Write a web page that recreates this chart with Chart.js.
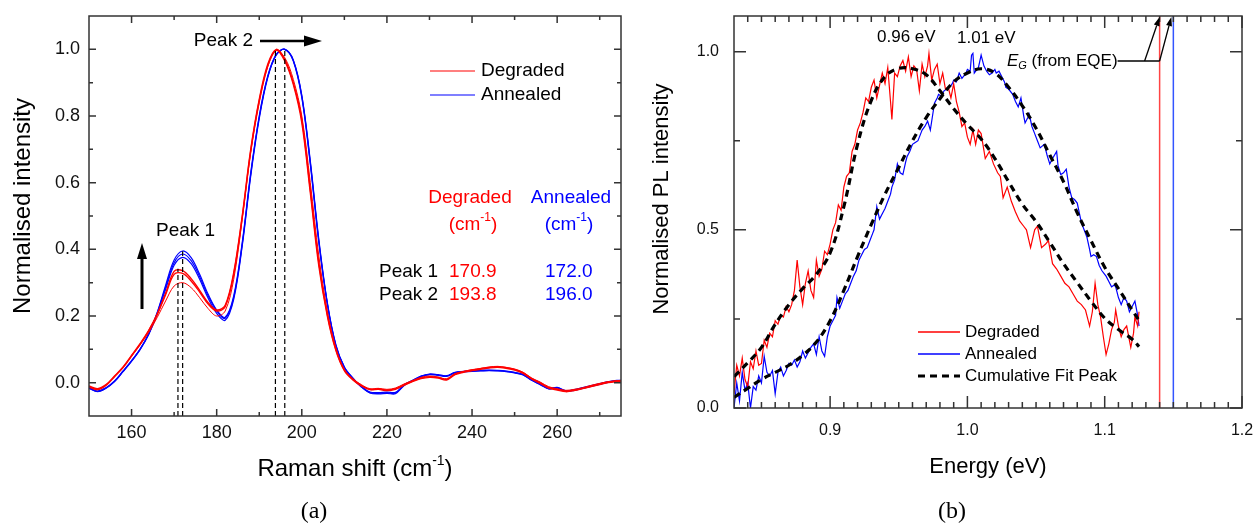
<!DOCTYPE html>
<html>
<head>
<meta charset="utf-8">
<script src="https://cdn.jsdelivr.net/npm/chart.js@4"></script>
<style>
  html, body { margin: 0; padding: 0; background: #fff; }
  #wrap { position: relative; width: 1256px; height: 526px; }
  #ramanBox { position: absolute; left: 0; top: 0; width: 630px; height: 526px; }
  #plBox { position: absolute; left: 630px; top: 0; width: 626px; height: 526px; }
</style>
</head>
<body>
<div id="wrap">
  <div id="ramanBox"><canvas id="raman"></canvas></div>
  <div id="plBox"><canvas id="pl"></canvas></div>
</div>
<script>
// ---- (a) Raman spectra ----
const ramanShift = [150,152,154,156,158,160,162,164,166,168,170,172,174,176,178,180,182,184,186,188,190,192,194,196,198,200,202,204,206,208,210,212,214,216,218,220,222,224,226,228,230,232,234,236,238,240,242,244,246,248,250,252,254,256,258,260,262,264,266,268,270,272,274,276];

const degradedA = [-0.013,-0.021,-0.008,0.018,0.045,0.08,0.115,0.155,0.205,0.268,0.334,0.336,0.312,0.277,0.24,0.218,0.232,0.33,0.5,0.7,0.85,0.955,1.0,0.97,0.9,0.79,0.58,0.36,0.205,0.1,0.038,0.01,-0.008,-0.02,-0.018,-0.022,-0.018,-0.006,0.005,0.014,0.018,0.016,0.01,0.026,0.033,0.038,0.042,0.046,0.048,0.045,0.04,0.03,0.013,0.0,-0.014,-0.02,-0.025,-0.022,-0.017,-0.01,-0.004,0.002,0.005,0.007];
const degradedB = [-0.01,-0.018,-0.006,0.02,0.047,0.082,0.117,0.156,0.204,0.264,0.325,0.328,0.305,0.272,0.236,0.215,0.228,0.325,0.495,0.695,0.845,0.95,0.998,0.965,0.895,0.78,0.57,0.35,0.2,0.097,0.036,0.008,-0.01,-0.021,-0.02,-0.024,-0.02,-0.008,0.003,0.012,0.016,0.014,0.008,0.024,0.031,0.036,0.04,0.044,0.046,0.043,0.038,0.028,0.011,-0.002,-0.016,-0.022,-0.027,-0.024,-0.018,-0.012,-0.006,0.0,0.003,0.005];
const degradedC = [-0.012,-0.02,-0.007,0.019,0.046,0.08,0.113,0.15,0.195,0.245,0.29,0.3,0.285,0.255,0.222,0.2,0.215,0.31,0.49,0.69,0.84,0.948,0.996,0.975,0.91,0.8,0.6,0.38,0.215,0.105,0.04,0.012,-0.006,-0.018,-0.017,-0.02,-0.016,-0.004,0.006,0.016,0.02,0.017,0.012,0.027,0.034,0.039,0.043,0.047,0.049,0.046,0.041,0.031,0.014,0.002,-0.012,-0.018,-0.023,-0.02,-0.015,-0.008,-0.002,0.003,0.006,0.008];
const annealedA = [-0.016,-0.026,-0.016,0.004,0.034,0.065,0.1,0.145,0.21,0.292,0.368,0.395,0.375,0.325,0.265,0.218,0.196,0.26,0.42,0.63,0.8,0.92,0.985,1.0,0.965,0.855,0.655,0.42,0.235,0.11,0.045,0.012,-0.012,-0.03,-0.032,-0.03,-0.031,-0.008,0.006,0.019,0.025,0.023,0.02,0.03,0.033,0.035,0.036,0.037,0.036,0.034,0.03,0.024,0.008,-0.005,-0.018,-0.015,-0.025,-0.022,-0.016,-0.01,-0.004,0.002,0.006,0.006];
const annealedB = [-0.015,-0.025,-0.015,0.005,0.035,0.066,0.101,0.146,0.208,0.286,0.36,0.386,0.366,0.318,0.26,0.215,0.193,0.255,0.415,0.625,0.797,0.918,0.984,1.0,0.967,0.86,0.66,0.425,0.238,0.112,0.046,0.013,-0.011,-0.028,-0.03,-0.028,-0.029,-0.007,0.007,0.02,0.026,0.024,0.021,0.031,0.034,0.036,0.037,0.038,0.037,0.035,0.031,0.025,0.009,-0.004,-0.017,-0.014,-0.024,-0.021,-0.015,-0.009,-0.003,0.003,0.007,0.007];
const annealedC = [-0.017,-0.027,-0.017,0.003,0.033,0.064,0.099,0.144,0.205,0.28,0.352,0.376,0.357,0.31,0.253,0.208,0.187,0.25,0.41,0.62,0.792,0.915,0.983,1.0,0.968,0.862,0.665,0.43,0.24,0.114,0.047,0.014,-0.013,-0.031,-0.034,-0.032,-0.033,-0.009,0.005,0.018,0.024,0.022,0.019,0.029,0.032,0.034,0.035,0.036,0.035,0.033,0.029,0.023,0.007,-0.006,-0.019,-0.016,-0.026,-0.023,-0.017,-0.011,-0.005,0.001,0.005,0.005];

const peaksDegraded = [170.9, 193.8];
const peaksAnnealed = [172.0, 196.0];
const peakTopsDegraded = [0.342, 0.998];
const peakTopsAnnealed = [0.394, 1.0];

const ramanXMajor = [160, 180, 200, 220, 240, 260];
const ramanXMinor = [170, 190, 210, 230, 250, 270];
const ramanYMajor = [0.0, 0.2, 0.4, 0.6, 0.8, 1.0];
const ramanYMinor = [0.1, 0.3, 0.5, 0.7, 0.9];

// ---- (b) PL spectra ----
const plDegraded = [[0.830,0.04],[0.832,0.12],[0.834,0.09],[0.836,0.14],[0.838,0.08],[0.840,0.06],[0.842,0.13],[0.844,0.11],[0.846,0.16],[0.848,0.12],[0.850,0.125],[0.852,0.19],[0.854,0.17],[0.856,0.21],[0.858,0.2],[0.860,0.245],[0.862,0.235],[0.864,0.26],[0.866,0.255],[0.868,0.285],[0.870,0.27],[0.872,0.29],[0.874,0.33],[0.876,0.415],[0.878,0.34],[0.880,0.29],[0.882,0.35],[0.884,0.385],[0.886,0.33],[0.888,0.31],[0.890,0.415],[0.892,0.37],[0.894,0.39],[0.896,0.44],[0.898,0.43],[0.900,0.46],[0.902,0.50],[0.904,0.52],[0.906,0.57],[0.908,0.555],[0.910,0.62],[0.912,0.65],[0.914,0.66],[0.916,0.72],[0.918,0.74],[0.920,0.78],[0.922,0.80],[0.924,0.83],[0.926,0.87],[0.928,0.86],[0.930,0.90],[0.932,0.92],[0.934,0.87],[0.936,0.905],[0.938,0.94],[0.940,0.91],[0.942,0.955],[0.944,0.86],[0.945,0.81],[0.947,0.94],[0.949,0.93],[0.951,0.96],[0.953,0.975],[0.955,0.945],[0.957,0.985],[0.959,0.93],[0.961,0.96],[0.963,0.95],[0.965,0.89],[0.967,0.965],[0.969,0.93],[0.971,0.96],[0.972,0.995],[0.974,0.92],[0.976,0.95],[0.978,0.965],[0.980,0.91],[0.982,0.94],[0.984,0.895],[0.986,0.9],[0.988,0.87],[0.990,0.91],[0.992,0.86],[0.994,0.83],[0.996,0.79],[0.998,0.80],[1.000,0.76],[1.002,0.74],[1.004,0.78],[1.006,0.74],[1.008,0.78],[1.010,0.77],[1.013,0.70],[1.016,0.72],[1.019,0.685],[1.022,0.66],[1.024,0.65],[1.026,0.59],[1.029,0.62],[1.032,0.58],[1.035,0.55],[1.038,0.525],[1.041,0.51],[1.043,0.50],[1.046,0.45],[1.049,0.50],[1.051,0.51],[1.054,0.45],[1.057,0.46],[1.059,0.47],[1.062,0.405],[1.065,0.39],[1.068,0.37],[1.071,0.35],[1.074,0.34],[1.077,0.32],[1.080,0.30],[1.083,0.29],[1.086,0.275],[1.089,0.23],[1.091,0.27],[1.093,0.35],[1.095,0.29],[1.097,0.255],[1.099,0.2],[1.101,0.15],[1.103,0.18],[1.105,0.22],[1.107,0.24],[1.108,0.275],[1.110,0.23],[1.112,0.20],[1.114,0.22],[1.116,0.23],[1.118,0.19],[1.119,0.17],[1.121,0.21],[1.122,0.255],[1.124,0.23],[1.125,0.27]];

const plAnnealed = [[0.830,0.0],[0.832,0.07],[0.834,0.02],[0.836,0.1],[0.838,0.05],[0.840,0.07],[0.842,0.0],[0.844,0.06],[0.846,0.05],[0.848,0.09],[0.850,0.07],[0.852,0.145],[0.854,0.10],[0.856,0.09],[0.858,0.105],[0.860,0.04],[0.862,0.10],[0.864,0.115],[0.866,0.09],[0.868,0.105],[0.870,0.125],[0.872,0.12],[0.874,0.135],[0.876,0.115],[0.878,0.13],[0.880,0.16],[0.882,0.14],[0.884,0.155],[0.886,0.17],[0.888,0.18],[0.890,0.15],[0.892,0.2],[0.894,0.16],[0.896,0.145],[0.898,0.2],[0.900,0.23],[0.902,0.245],[0.904,0.26],[0.905,0.31],[0.907,0.28],[0.909,0.30],[0.911,0.32],[0.913,0.33],[0.915,0.35],[0.917,0.37],[0.919,0.385],[0.921,0.415],[0.923,0.43],[0.925,0.445],[0.927,0.45],[0.929,0.47],[0.931,0.49],[0.932,0.50],[0.934,0.565],[0.936,0.53],[0.938,0.545],[0.940,0.56],[0.942,0.58],[0.944,0.60],[0.945,0.62],[0.947,0.64],[0.949,0.685],[0.951,0.66],[0.953,0.655],[0.955,0.69],[0.956,0.705],[0.958,0.72],[0.960,0.74],[0.962,0.745],[0.964,0.75],[0.966,0.77],[0.967,0.78],[0.969,0.79],[0.971,0.805],[0.973,0.78],[0.975,0.83],[0.976,0.855],[0.978,0.87],[0.979,0.88],[0.981,0.875],[0.983,0.89],[0.985,0.895],[0.987,0.90],[0.989,0.91],[0.990,0.92],[0.992,0.915],[0.994,0.94],[0.996,0.925],[0.997,0.93],[0.999,0.94],[1.000,0.95],[1.002,0.945],[1.003,0.99],[1.004,0.995],[1.005,0.94],[1.007,0.95],[1.008,0.955],[1.010,0.99],[1.012,0.96],[1.014,0.945],[1.016,0.935],[1.018,0.94],[1.020,0.95],[1.021,0.94],[1.023,0.945],[1.025,0.93],[1.027,0.915],[1.028,0.90],[1.030,0.895],[1.033,0.88],[1.035,0.86],[1.037,0.845],[1.039,0.87],[1.041,0.82],[1.042,0.80],[1.044,0.815],[1.045,0.825],[1.047,0.79],[1.049,0.77],[1.051,0.75],[1.053,0.73],[1.056,0.74],[1.058,0.71],[1.060,0.685],[1.062,0.70],[1.065,0.72],[1.066,0.68],[1.068,0.655],[1.070,0.66],[1.072,0.67],[1.074,0.62],[1.076,0.59],[1.078,0.585],[1.080,0.575],[1.083,0.52],[1.085,0.50],[1.087,0.48],[1.089,0.445],[1.090,0.425],[1.092,0.43],[1.094,0.425],[1.096,0.40],[1.098,0.385],[1.100,0.375],[1.101,0.37],[1.103,0.355],[1.105,0.34],[1.107,0.345],[1.108,0.34],[1.110,0.31],[1.112,0.29],[1.114,0.31],[1.116,0.30],[1.118,0.27],[1.120,0.285],[1.122,0.30],[1.124,0.26],[1.125,0.23]];

const fitEnergy = [0.83,0.84,0.85,0.86,0.87,0.88,0.89,0.90,0.91,0.92,0.93,0.94,0.95,0.96,0.97,0.98,0.99,1.00,1.01,1.02,1.03,1.04,1.05,1.06,1.07,1.08,1.09,1.10,1.11,1.12,1.125];
const fitDegraded = [0.088,0.127,0.17,0.235,0.29,0.335,0.375,0.435,0.565,0.74,0.863,0.93,0.953,0.952,0.935,0.89,0.84,0.795,0.755,0.70,0.635,0.572,0.523,0.465,0.405,0.352,0.30,0.252,0.22,0.193,0.172];
const fitAnnealed = [0.03,0.055,0.08,0.10,0.12,0.148,0.185,0.245,0.33,0.425,0.515,0.60,0.675,0.75,0.815,0.868,0.915,0.94,0.952,0.94,0.90,0.848,0.785,0.71,0.635,0.548,0.47,0.395,0.335,0.275,0.246];

const fitPeakLabels = ['0.96 eV', '1.01 eV'];
const egDegraded = 1.14;
const egAnnealed = 1.15;

const plXMajor = [0.9, 1.0, 1.1, 1.2];
const plYMajor = [0.0, 0.5, 1.0];
const plYMinor = [0.25, 0.75];

const RED = '#ff0000';
const BLUE = '#0000ff';
const AXIS = '#333333';
const SANS = '"Liberation Sans", Arial, sans-serif';

function xy(xs, ys) {
    return xs.map((x, i) => ({ x: x, y: ys[i] }));
}

function richText(ctx, parts, x, y, align) {
    let w = 0;
    parts.forEach(p => { ctx.font = p[1]; w += ctx.measureText(p[0]).width; });
    let cx = align === 'center' ? x - w / 2 : (align === 'right' ? x - w : x);
    ctx.textAlign = 'left';
    parts.forEach(p => {
        ctx.font = p[1];
        ctx.fillText(p[0], cx, y + (p[2] || 0));
        cx += ctx.measureText(p[0]).width;
    });
    return cx;
}

function arrow(ctx, x1, y1, x2, y2, head, half, width) {
    const ang = Math.atan2(y2 - y1, x2 - x1);
    const bx = x2 - head * Math.cos(ang);
    const by = y2 - head * Math.sin(ang);
    ctx.lineWidth = width;
    ctx.beginPath();
    ctx.moveTo(x1, y1);
    ctx.lineTo(bx, by);
    ctx.stroke();
    ctx.beginPath();
    ctx.moveTo(x2, y2);
    ctx.lineTo(bx - half * Math.sin(ang), by + half * Math.cos(ang));
    ctx.lineTo(bx + half * Math.sin(ang), by - half * Math.cos(ang));
    ctx.closePath();
    ctx.fill();
}

// frame + inward ticks on all four sides
function drawFrame(chart, t) {
    const { ctx, chartArea: a, scales: { x, y } } = chart;
    ctx.save();
    ctx.strokeStyle = AXIS;
    ctx.lineWidth = 1.5;
    ctx.strokeRect(a.left, a.top, a.right - a.left, a.bottom - a.top);
    ctx.beginPath();
    const xt = (v, len) => {
        const p = x.getPixelForValue(v);
        ctx.moveTo(p, a.bottom); ctx.lineTo(p, a.bottom - len);
        ctx.moveTo(p, a.top); ctx.lineTo(p, a.top + len);
    };
    const yt = (v, len) => {
        const p = y.getPixelForValue(v);
        ctx.moveTo(a.left, p); ctx.lineTo(a.left + len, p);
        ctx.moveTo(a.right, p); ctx.lineTo(a.right - len, p);
    };
    t.xMajor.forEach(v => xt(v, t.major));
    t.xMinor.forEach(v => xt(v, t.minor));
    t.yMajor.forEach(v => yt(v, t.major));
    t.yMinor.forEach(v => yt(v, t.minor));
    ctx.stroke();

    ctx.fillStyle = '#111';
    ctx.font = t.font;
    ctx.textBaseline = 'middle';
    ctx.textAlign = 'center';
    t.xMajor.forEach(v => ctx.fillText(t.xFmt(v), x.getPixelForValue(v), a.bottom + t.xGap));
    ctx.textAlign = 'right';
    t.yMajor.forEach(v => ctx.fillText(v.toFixed(1), a.left - t.yGap, y.getPixelForValue(v)));
    ctx.restore();
}

const line = (data, color, w) => ({
    data: data, borderColor: color, borderWidth: w, pointRadius: 0,
    fill: false, tension: 0.35
});

const dashedV = (xv, top, bottom) => ({
    data: [{ x: xv, y: bottom }, { x: xv, y: top }],
    borderColor: '#000', borderWidth: 1.2, borderDash: [5, 3],
    pointRadius: 0, fill: false, tension: 0
});

// ---------------- chart (a) ----------------
const ramanPlugin = {
    id: 'ramanDecor',
    afterDatasetsDraw(chart) {
        drawFrame(chart, {
            xMajor: ramanXMajor, xMinor: ramanXMinor,
            yMajor: ramanYMajor, yMinor: ramanYMinor,
            major: 7, minor: 4, font: '18px ' + SANS,
            xGap: 17, yGap: 9, xFmt: v => String(v)
        });
        const { ctx, chartArea: a } = chart;
        ctx.save();
        ctx.fillStyle = '#000';
        ctx.strokeStyle = '#000';
        ctx.textBaseline = 'middle';

        // axis titles
        const big = '24px ' + SANS;
        const sup = '14px ' + SANS;
        richText(ctx, [['Raman shift (cm', big], ['-1', sup, -8], [')', big]], 355, 469, 'center');
        ctx.save();
        ctx.translate(23, 206);
        ctx.rotate(-Math.PI / 2);
        ctx.font = big;
        ctx.textAlign = 'center';
        ctx.fillText('Normalised intensity', 0, 0);
        ctx.restore();

        // caption
        ctx.font = '24px "Liberation Serif", "DejaVu Serif", serif';
        ctx.textAlign = 'center';
        ctx.fillText('(a)', 314, 512);

        // peak annotations
        const f19 = '19px ' + SANS;
        ctx.font = f19;
        ctx.textAlign = 'right';
        ctx.fillText('Peak 2', 253, 41);
        arrow(ctx, 260, 41, 322, 41, 18, 5.5, 2.5);
        ctx.textAlign = 'left';
        ctx.fillText('Peak 1', 156, 231);
        arrow(ctx, 142, 309, 142, 243, 16, 5, 3);

        // legend
        ctx.lineWidth = 1.2;
        [['Degraded', RED, 71], ['Annealed', BLUE, 95]].forEach(r => {
            ctx.strokeStyle = r[1];
            ctx.beginPath(); ctx.moveTo(430, r[2]); ctx.lineTo(475, r[2]); ctx.stroke();
            ctx.fillStyle = '#000';
            ctx.font = f19;
            ctx.textAlign = 'left';
            ctx.fillText(r[0], 481, r[2]);
        });

        // peak position table
        const sup2 = '12px ' + SANS;
        ctx.textAlign = 'center';
        ctx.fillStyle = RED;
        ctx.font = f19;
        ctx.fillText('Degraded', 470, 198);
        richText(ctx, [['(cm', f19], ['-1', sup2, -7], [')', f19]], 473, 225, 'center');
        ctx.fillStyle = BLUE;
        ctx.textAlign = 'center';
        ctx.font = f19;
        ctx.fillText('Annealed', 571, 198);
        richText(ctx, [['(cm', f19], ['-1', sup2, -7], [')', f19]], 569, 225, 'center');
        ctx.font = f19;
        ctx.textAlign = 'left';
        ['Peak 1', 'Peak 2'].forEach((name, i) => {
            const yy = 272 + i * 23;
            ctx.fillStyle = '#000';
            ctx.fillText(name, 379, yy);
            ctx.fillStyle = RED;
            ctx.fillText(peaksDegraded[i].toFixed(1), 449, yy);
            ctx.fillStyle = BLUE;
            ctx.fillText(peaksAnnealed[i].toFixed(1), 545, yy);
        });
        ctx.restore();
    }
};

new Chart(document.getElementById('raman'), {
    type: 'line',
    plugins: [ramanPlugin],
    data: {
        datasets: [
            dashedV(peaksDegraded[0], peakTopsDegraded[0], -0.1),
            dashedV(peaksAnnealed[0], peakTopsAnnealed[0], -0.1),
            dashedV(peaksDegraded[1], peakTopsDegraded[1], -0.1),
            dashedV(peaksAnnealed[1], peakTopsAnnealed[1], -0.1),
            line(xy(ramanShift, degradedA), RED, 1.4),
            line(xy(ramanShift, degradedB), RED, 1.4),
            line(xy(ramanShift, degradedC), RED, 1.0),
            line(xy(ramanShift, annealedA), BLUE, 1.2),
            line(xy(ramanShift, annealedB), BLUE, 1.2),
            line(xy(ramanShift, annealedC), BLUE, 1.2)
        ]
    },
    options: {
        responsive: true,
        maintainAspectRatio: false,
        animation: false,
        devicePixelRatio: 1,
        layout: { padding: { left: 89, top: 16, right: 9, bottom: 110 } },
        plugins: { legend: { display: false }, tooltip: { enabled: false } },
        scales: {
            x: { type: 'linear', min: 150, max: 275, display: false },
            y: { type: 'linear', min: -0.1, max: 1.1, display: false }
        }
    }
});

// ---------------- chart (b) ----------------
const plXMinor = [];
for (let i = 84; i < 120; i++) {
    if (i % 10 !== 0) plXMinor.push(i / 100);
}

const plPlugin = {
    id: 'plDecor',
    afterDatasetsDraw(chart) {
        drawFrame(chart, {
            xMajor: plXMajor, xMinor: plXMinor,
            yMajor: plYMajor, yMinor: plYMinor,
            major: 12, minor: 6, font: '16px ' + SANS,
            xGap: 23, yGap: 15, xFmt: v => v.toFixed(1)
        });
        const { ctx, scales: { x } } = chart;
        ctx.save();
        ctx.fillStyle = '#000';
        ctx.strokeStyle = '#000';
        ctx.textBaseline = 'middle';

        const title = '22px ' + SANS;
        ctx.font = title;
        ctx.textAlign = 'center';
        ctx.fillText('Energy (eV)', 358, 467);
        ctx.save();
        ctx.translate(32, 199);
        ctx.rotate(-Math.PI / 2);
        ctx.fillText('Normalised PL intensity', 0, 0);
        ctx.restore();

        ctx.font = '24px "Liberation Serif", "DejaVu Serif", serif';
        ctx.fillText('(b)', 322, 512);

        // fit peak labels
        const f17 = '17px ' + SANS;
        ctx.font = f17;
        ctx.textAlign = 'left';
        ctx.fillText(fitPeakLabels[0], 247, 37.5);
        ctx.fillText(fitPeakLabels[1], 327, 38);

        // E_G annotation
        const endX = richText(ctx, [
            ['E', 'italic 17px ' + SANS],
            ['G', 'italic 11px ' + SANS, 5],
            [' (from EQE)', f17]
        ], 377, 61, 'left');
        const xr = x.getPixelForValue(egDegraded);
        const xb = x.getPixelForValue(egAnnealed);
        ctx.lineWidth = 1.3;
        ctx.beginPath();
        ctx.moveTo(endX, 61);
        ctx.lineTo(xr, 61);
        ctx.stroke();
        arrow(ctx, xr - 15, 61, xr, 17, 9, 3, 1.3);
        arrow(ctx, xr, 61, xb - 2, 17, 9, 3, 1.3);

        // legend
        const rows = [['Degraded', RED, 332, []], ['Annealed', BLUE, 354, []], ['Cumulative Fit Peak', '#000', 376, [7, 5]]];
        rows.forEach(r => {
            ctx.strokeStyle = r[1];
            ctx.lineWidth = r[3].length ? 3.2 : 1.3;
            ctx.setLineDash(r[3]);
            ctx.beginPath(); ctx.moveTo(288, r[2]); ctx.lineTo(330, r[2]); ctx.stroke();
            ctx.setLineDash([]);
            ctx.fillStyle = '#000';
            ctx.font = f17;
            ctx.textAlign = 'left';
            ctx.fillText(r[0], 335, r[2]);
        });
        ctx.restore();
    }
};

const fitLine = data => ({
    data: data, borderColor: '#000', borderWidth: 3.2, borderDash: [7, 5],
    pointRadius: 0, fill: false, tension: 0.4
});
const egLine = (e, color) => ({
    data: [{ x: e, y: 0 }, { x: e, y: 1.1 }],
    borderColor: color, borderWidth: 1.5, pointRadius: 0, fill: false
});
const noisy = (pairs, color) => ({
    data: pairs.map(p => ({ x: p[0], y: p[1] })),
    borderColor: color, borderWidth: 1.2, pointRadius: 0, fill: false, tension: 0
});

new Chart(document.getElementById('pl'), {
    type: 'line',
    plugins: [plPlugin],
    data: {
        datasets: [
            fitLine(xy(fitEnergy, fitDegraded)),
            fitLine(xy(fitEnergy, fitAnnealed)),
            noisy(plDegraded, RED),
            noisy(plAnnealed, BLUE),
            egLine(egDegraded, '#ff4444'),
            egLine(egAnnealed, '#3355ff')
        ]
    },
    options: {
        responsive: true,
        maintainAspectRatio: false,
        animation: false,
        devicePixelRatio: 1,
        layout: { padding: { left: 104, top: 16, right: 14, bottom: 118 } },
        plugins: { legend: { display: false }, tooltip: { enabled: false } },
        scales: {
            x: { type: 'linear', min: 0.83, max: 1.2, display: false },
            y: { type: 'linear', min: 0, max: 1.1, display: false }
        }
    }
});
</script>
</body>
</html>
